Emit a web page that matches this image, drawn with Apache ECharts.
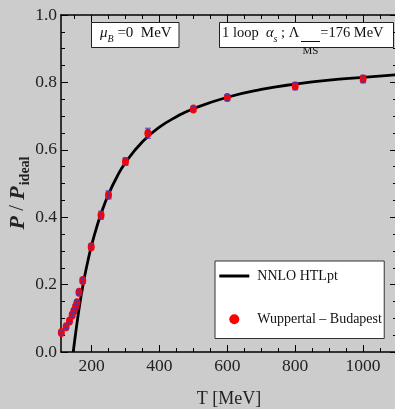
<!DOCTYPE html>
<html>
<head>
<meta charset="utf-8">
<script src="https://cdn.jsdelivr.net/npm/echarts@6/dist/echarts.min.js"></script>
<style>
  html, body { margin: 0; padding: 0; background: #cccccc; }
  #chart { width: 395px; height: 409px; }
</style>
</head>
<body>
<div id="chart"></div>
<script>
// Wuppertal-Budapest lattice points (T in MeV, P/P_ideal, error)
const latticeT = [111, 125, 135, 143, 148, 153, 157, 163, 174, 199, 228, 250, 300, 366, 500, 600, 800, 1000];
const latticeP = [0.058, 0.075, 0.092, 0.110, 0.122, 0.134, 0.146, 0.177, 0.212, 0.312, 0.406, 0.466, 0.565, 0.649, 0.721, 0.755, 0.789, 0.810];
const latticeErr = [0.005, 0.005, 0.005, 0.006, 0.006, 0.006, 0.007, 0.007, 0.008, 0.008, 0.012, 0.012, 0.011, 0.015, 0.007, 0.009, 0.011, 0.011];

// NNLO HTLpt curve
const htlT = [146, 150, 155, 160, 165, 170, 180, 190, 200, 215, 230, 250, 275, 300, 350, 400, 450, 500, 600, 700, 800, 900, 1000, 1100];
const htlP = [0, 0.032, 0.07, 0.106, 0.14, 0.171, 0.226, 0.274, 0.316, 0.37, 0.416, 0.468, 0.52, 0.562, 0.624, 0.667, 0.698, 0.722, 0.756, 0.779, 0.795, 0.807, 0.815, 0.823];

const xMajorTicks = [200, 400, 600, 800, 1000];
const xMinorTicks = [150, 250, 300, 350, 450, 500, 550, 650, 700, 750, 850, 900, 950, 1050];

const serif = 'Liberation Serif';
const chart = echarts.init(document.getElementById('chart'));

const pointData = latticeT.map((t, i) => [t, latticeP[i]]);
const errData = latticeT.map((t, i) => [t, latticeP[i] - latticeErr[i], latticeP[i] + latticeErr[i]]);
const curveData = htlT.map((t, i) => [t, htlP[i]]);

function xAxisOf(position, ticks, major) {
  return {
    type: 'value', position: position, min: 110, max: 1100,
    axisLine: { show: major, onZero: false, lineStyle: { color: '#000', width: 1.5 } },
    axisTick: { show: true, inside: true, length: major ? 7 : 4, customValues: ticks,
      lineStyle: { color: '#000', width: 1 } },
    axisLabel: major && position === 'bottom'
      ? { show: true, customValues: xMajorTicks, fontFamily: serif, fontSize: 17.5, color: '#222', margin: 5,
          formatter: v => String(v) }
      : { show: false },
    splitLine: { show: false }
  };
}

function yAxisOf(position, labels) {
  return {
    type: 'value', position: position, min: 0, max: 1, interval: 0.2,
    axisLine: { show: true, onZero: false, lineStyle: { color: '#000', width: 1.5 } },
    axisTick: { show: true, inside: true, length: 7, lineStyle: { color: '#000', width: 1 } },
    minorTick: { show: true, splitNumber: 4, length: 4, lineStyle: { color: '#000', width: 1 } },
    axisLabel: labels
      ? { show: true, fontFamily: serif, fontSize: 17.5, color: '#222', margin: 4,
          formatter: v => v.toFixed(1) }
      : { show: false },
    splitLine: { show: false }
  };
}

const bottomMajor = xAxisOf('bottom', xMajorTicks, true);
bottomMajor.name = 'T [MeV]';
bottomMajor.nameLocation = 'middle';
bottomMajor.nameGap = 38;
bottomMajor.nameTextStyle = { fontFamily: serif, fontSize: 18, color: '#222' };

function renderErr(params, api) {
  const x = api.value(0);
  const p1 = api.coord([x, api.value(1)]);
  const p2 = api.coord([x, api.value(2)]);
  const cap = 3;
  const style = { stroke: 'rgba(60,60,190,0.75)', lineWidth: 1.2 };
  return {
    type: 'group',
    children: [
      { type: 'line', shape: { x1: p1[0], y1: p1[1], x2: p2[0], y2: p2[1] }, style: style },
      { type: 'line', shape: { x1: p1[0] - cap, y1: p1[1], x2: p1[0] + cap, y2: p1[1] }, style: style },
      { type: 'line', shape: { x1: p2[0] - cap, y1: p2[1], x2: p2[0] + cap, y2: p2[1] }, style: style }
    ]
  };
}

const txt = { fontFamily: serif, fill: '#111' };

chart.setOption({
  backgroundColor: '#cccccc',
  animation: false,
  grid: { left: 61, top: 15, width: 336, height: 337, containLabel: false, outerBoundsMode: 'none' },
  xAxis: [
    bottomMajor,
    xAxisOf('top', xMajorTicks, true),
    xAxisOf('top', xMinorTicks, false),
    xAxisOf('bottom', xMinorTicks, false)
  ],
  yAxis: [yAxisOf('left', true), yAxisOf('right', false)],
  legend: {
    orient: 'vertical', left: 215, top: 261,
    padding: [8, 2.3, 12.3, 4.3], itemGap: 29.2, itemWidth: 30, itemHeight: 10,
    backgroundColor: '#ffffff', borderColor: '#333', borderWidth: 1, borderRadius: 0,
    textStyle: { fontFamily: serif, fontSize: 14, color: '#111', padding: [0, 0, 0, 3] },
    data: [
      { name: 'NNLO HTLpt', icon: 'path://M0,0H30V3H0Z' },
      { name: 'Wuppertal – Budapest', icon: 'circle' }
    ]
  },
  graphic: [
    {
      type: 'text', x: 18, y: 193, rotation: Math.PI / 2,
      style: {
        text: '{p|P}{n| / }{p|P}{s|ideal}',
        align: 'center', verticalAlign: 'middle',
        rich: {
          p: { fontFamily: serif, fontStyle: 'italic', fontWeight: 'bold', fontSize: 22, lineHeight: 22, verticalAlign: 'top', fill: '#222' },
          n: { fontFamily: serif, fontSize: 21, lineHeight: 22, verticalAlign: 'top', fill: '#222' },
          s: { fontFamily: serif, fontWeight: 'bold', fontSize: 14, lineHeight: 14, padding: [11, 0, 0, 1], verticalAlign: 'top', fill: '#222' }
        }
      }
    },
    {
      type: 'rect', shape: { x: 91.5, y: 22.5, width: 87.5, height: 25 },
      style: { fill: '#ffffff', stroke: '#222', lineWidth: 1 }
    },
    {
      type: 'text', x: 100, y: 35,
      style: {
        text: '{i|μ}{is|B}{n| =0  MeV}',
        align: 'left', verticalAlign: 'middle',
        rich: {
          i: Object.assign({ fontStyle: 'italic', fontSize: 15, lineHeight: 18, verticalAlign: 'top' }, txt),
          is: Object.assign({ fontStyle: 'italic', fontSize: 10, lineHeight: 10, padding: [8, 0, 0, 0], verticalAlign: 'top' }, txt),
          n: Object.assign({ fontSize: 15, lineHeight: 18, verticalAlign: 'top' }, txt)
        }
      }
    },
    {
      type: 'rect', shape: { x: 219.5, y: 22.5, width: 174, height: 25 },
      style: { fill: '#ffffff', stroke: '#222', lineWidth: 1 }
    },
    {
      type: 'text', x: 222, y: 35,
      style: {
        text: '{n|1 loop  }{i|α}{is|s}{n| ; Λ}{gap| }{n|=176 MeV}',
        align: 'left', verticalAlign: 'middle',
        rich: {
          n: Object.assign({ fontSize: 14.5, lineHeight: 18, verticalAlign: 'top' }, txt),
          i: Object.assign({ fontStyle: 'italic', fontSize: 14.5, lineHeight: 18, verticalAlign: 'top' }, txt),
          is: Object.assign({ fontStyle: 'italic', fontSize: 10, lineHeight: 10, padding: [8, 0, 0, 0], verticalAlign: 'top' }, txt),
          gap: Object.assign({ fontSize: 14.5, lineHeight: 18, width: 21, verticalAlign: 'top' }, txt)
        }
      }
    },
    {
      type: 'text', x: 310.5, y: 51.5,
      style: Object.assign({ text: 'MS', fontSize: 11, align: 'center', verticalAlign: 'middle' }, txt)
    },
    {
      type: 'line', shape: { x1: 301, y1: 41.5, x2: 320, y2: 41.5 },
      style: { stroke: '#111', lineWidth: 1 }
    }
  ],
  series: [
    {
      name: 'NNLO HTLpt', type: 'line', data: curveData,
      xAxisIndex: 0, yAxisIndex: 0,
      symbol: 'none', smooth: 0.5,
      lineStyle: { color: '#000', width: 2.8 }, itemStyle: { color: '#000' },
      z: 2
    },
    {
      name: 'Wuppertal – Budapest', type: 'scatter', data: pointData,
      xAxisIndex: 0, yAxisIndex: 0,
      symbol: 'circle', symbolSize: [7, 9],
      itemStyle: { color: '#ff0000', opacity: 1 },
      z: 3
    },
    {
      name: 'err', type: 'custom', data: errData,
      xAxisIndex: 0, yAxisIndex: 0,
      encode: { x: 0, y: [1, 2] },
      renderItem: renderErr,
      z: 4
    }
  ]
});
</script>
</body>
</html>
